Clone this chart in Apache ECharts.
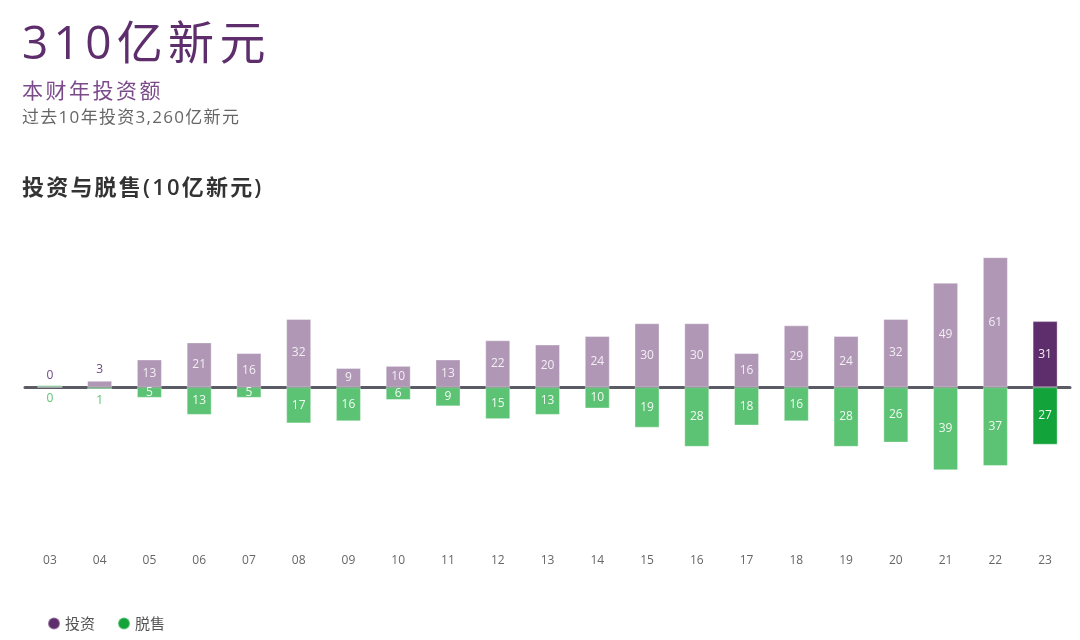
<!DOCTYPE html>
<html><head><meta charset="utf-8">
<script src="https://cdn.jsdelivr.net/npm/echarts@6/dist/echarts.min.js"></script>
<style>
html,body{margin:0;padding:0;background:#fff}
#wrap{position:relative;width:1080px;height:640px}
#c{position:absolute;left:0;top:0;width:1080px;height:640px}
.hd{position:absolute;left:22px;white-space:nowrap;line-height:1;font-family:"Open Sans","Noto Sans CJK SC",sans-serif;pointer-events:none}
</style>
</head><body><div id="wrap"><div id="c"></div>
<div class="hd" id="t0" style="top:18px;font-size:46px;letter-spacing:5.3px;color:#5E2D6B"></div>
<div class="hd" id="t1" style="top:79px;font-size:21px;letter-spacing:2.5px;color:#7B4A8B;font-family:'Noto Sans CJK SC',sans-serif"></div>
<div class="hd" id="t2" style="top:108px;font-size:17px;letter-spacing:1.3px;color:#666"></div>
<div class="hd" id="t3" style="top:175px;font-size:22px;letter-spacing:2.2px;color:#333;font-weight:600"></div>
</div>
<script>
const years = ['03','04','05','06','07','08','09','10','11','12','13','14','15','16','17','18','19','20','21','22','23'];
const invest = [0,3,13,21,16,32,9,10,13,22,20,24,30,30,16,29,24,32,49,61,31];
const divest = [0,1,5,13,5,17,16,6,9,15,13,10,19,28,18,16,28,26,39,37,27];
const titleMain = '310亿新元';
const sub1 = '本财年投资额';
const sub2 = '过去10年投资3,260亿新元';
const chartTitle = '投资与脱售(10亿新元)';

document.getElementById('t0').textContent = titleMain;
document.getElementById('t1').textContent = sub1;
document.getElementById('t2').textContent = sub2;
document.getElementById('t3').textContent = chartTitle;

const CJK = '"Noto Sans CJK SC",sans-serif';
const FONT = '"Open Sans","Noto Sans CJK SC",sans-serif';
const last = years.length - 1;
const invData = invest.map((v, i) => {
  const d = { value: v, itemStyle: { color: i === last ? '#5E2D6B' : '#AF97B5' } };
  if (v < 5) d.label = { position: 'top', color: '#6E4A80' };
  return d;
});
const divData = divest.map((v, i) => {
  const d = { value: -v, itemStyle: { color: i === last ? '#12A33A' : '#5CC374' } };
  if (v < 3) d.label = { position: 'bottom', color: '#5CC374' };
  return d;
});

const chart = echarts.init(document.getElementById('c'));
chart.setOption({
  animation: false,
  textStyle: { fontFamily: FONT },
  legend: {
    left: 42, top: 611, itemWidth: 12, itemHeight: 12, itemGap: 22, icon: 'circle',
    textStyle: { color: '#555', fontSize: 15, fontFamily: CJK },
    data: [{ name: '投资', itemStyle: { color: '#5E2D6B' } }, { name: '脱售', itemStyle: { color: '#12A33A' } }]
  },
  grid: { left: 25, right: 10, top: 238, bottom: 93 },
  xAxis: [
    { type: 'category', data: years, position: 'bottom',
      axisLine: { onZero: true, lineStyle: { color: '#5B5B66', width: 3 } },
      axisTick: { show: false }, axisLabel: { show: false } },
    { type: 'category', data: years, position: 'bottom', gridIndex: 0,
      axisLine: { show: false, onZero: false }, axisTick: { show: false },
      axisLabel: { color: '#666', fontSize: 12, margin: 8, fontFamily: FONT } }
  ],
  yAxis: { type: 'value', min: -75, max: 70, show: false, splitLine: { show: false } },
  series: [
    { name: '投资', type: 'bar', stack: 's', barWidth: 25, data: invData, z: 1,
      itemStyle: { borderColor: 'rgba(255,255,255,0.35)', borderWidth: 1 },
      label: { show: true, position: 'inside', color: '#F4EEF5', fontSize: 12, fontFamily: FONT } },
    { name: '脱售', type: 'bar', stack: 's', barWidth: 25, data: divData, barMinHeight: 2, z: 1,
      itemStyle: { borderColor: 'rgba(255,255,255,0.35)', borderWidth: 1 },
      label: { show: true, position: 'inside', color: '#F0FAF2', fontSize: 12, fontFamily: FONT,
        formatter: p => String(-p.value) } }
  ]
});
</script></body></html>
